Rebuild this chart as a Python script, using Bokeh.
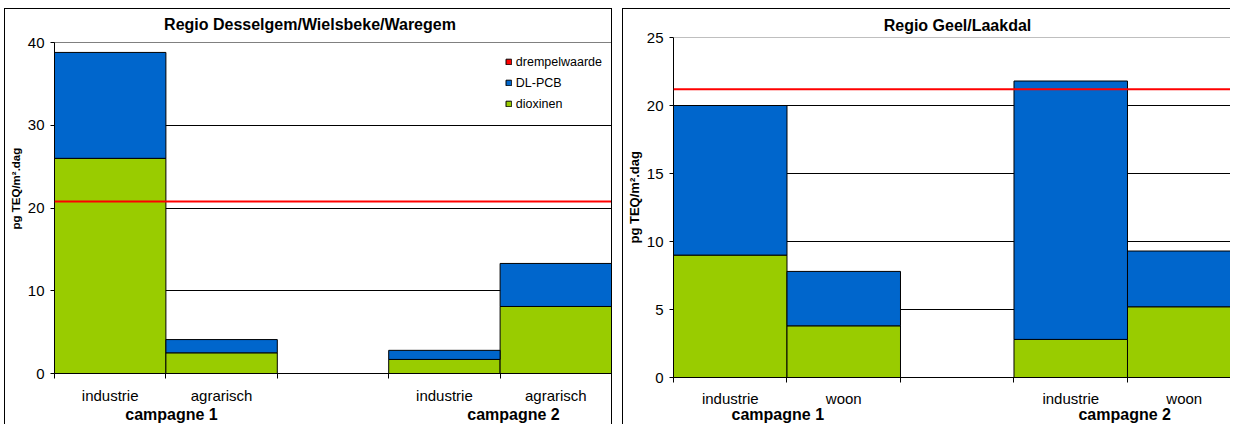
import math
from bokeh.plotting import figure
from bokeh.models import (ColumnDataSource, FixedTicker, Span, Legend, LegendItem,
                          Range1d, Title, LinearAxis, Spacer)
from bokeh.layouts import row, column
from bokeh.embed import file_html
from bokeh.resources import INLINE

# ---------------- data ----------------
series_names = ["drempelwaarde", "DL-PCB", "dioxinen"]
campagne_labels = ["campagne 1", "campagne 2"]
ylabel_text = "pg TEQ/m².dag"

left_title = "Regio Desselgem/Wielsbeke/Waregem"
left_campagne = [1, 1, 2, 2]
left_categories = ["industrie", "agrarisch", "industrie", "agrarisch"]
left_dioxinen = [26.0, 2.5, 1.7, 8.1]
left_dlpcb = [12.8, 1.6, 1.1, 5.2]
left_drempel = 20.8
left_yticks = [0, 10, 20, 30, 40]

right_title = "Regio Geel/Laakdal"
right_campagne = [1, 1, 2, 2]
right_categories = ["industrie", "woon", "industrie", "woon"]
right_dioxinen = [9.0, 3.8, 2.8, 5.2]
right_dlpcb = [11.0, 4.0, 19.0, 4.1]
right_drempel = 21.2
right_yticks = [0, 5, 10, 15, 20, 25]

GREEN = "#99CC00"
BLUE = "#0066CC"
RED = "#FF0000"
FONT = "Liberation Sans"


def text_axis(ticks, labels, size, standoff, orientation="horizontal"):
    """An axis used only to place text labels at given positions outside the frame."""
    return LinearAxis(ticker=FixedTicker(ticks=ticks, minor_ticks=[]),
                      major_label_overrides={v: t for v, t in zip(ticks, labels)},
                      axis_line_color=None, major_tick_line_color=None,
                      minor_tick_line_color=None, major_tick_out=0, major_tick_in=0,
                      major_label_standoff=standoff, major_label_orientation=orientation,
                      major_label_text_font=FONT, major_label_text_font_size=size,
                      major_label_text_font_style="bold", major_label_text_color="black")


def make_chart(title, campagne, cats, diox, dl, drempel, yticks, geo, legend=False):
    W, H = geo["W"], geo["H"]
    CW, CH = geo["CW"], geo["CH"]          # canvas size inside the css border
    FL, FR, FT, FB = geo["FL"], geo["FR"], geo["FT"], geo["FB"]
    x0, x1 = 0.0, geo["xend"]
    y0, y1 = 0.0, float(yticks[-1])
    slot_px = (FR - FL) / (x1 - x0)

    p = figure(width=W, height=H, output_backend="svg", toolbar_location=None,
               x_range=Range1d(x0, x1), y_range=Range1d(y0, y1),
               min_border_left=FL, min_border_right=CW - FR,
               min_border_top=FT, min_border_bottom=CH - FB,
               styles=geo["styles"])
    p.frame_align = False
    p.title.text = ""
    p.title.standoff = 0
    p.background_fill_color = "white"
    p.border_fill_color = "white"
    p.outline_line_color = geo["outline"]
    p.outline_line_width = 1

    # slot positions: campagne groups separated by an empty slot
    idx_in_group = []
    seen = {}
    for c in campagne:
        idx_in_group.append(seen.get(c, 0))
        seen[c] = seen.get(c, 0) + 1
    centers = [(c - 1) * 3 + i + 0.5 for c, i in zip(campagne, idx_in_group)]
    totals = [a + b for a, b in zip(diox, dl)]
    src = ColumnDataSource(dict(x=centers, diox=diox, total=totals))

    r_d = p.vbar(x="x", width=1.0, bottom=0, top="diox", source=src,
                 fill_color=GREEN, line_color="black", line_width=1)
    r_p = p.vbar(x="x", width=1.0, bottom="diox", top="total", source=src,
                 fill_color=BLUE, line_color="black", line_width=1)

    p.add_layout(Span(location=drempel, dimension="width", line_color=RED, line_width=2))
    if geo["outline"] is None:
        p.add_layout(Span(location=yticks[-1], dimension="width",
                          line_color="#808080", line_width=1))

    # category axis (labels centred in slots, ticks at slot boundaries)
    n_slots = int(max(centers) + 0.5)
    bounds_all = list(range(0, n_slots + 1))
    xa = p.xaxis[0]
    xa.ticker = FixedTicker(ticks=centers, minor_ticks=bounds_all)
    xa.major_label_overrides = {c: lab for c, lab in zip(centers, cats)}
    xa.major_tick_out = 0
    xa.major_tick_in = 0
    xa.minor_tick_out = 5
    xa.minor_tick_in = 0
    xa.minor_tick_line_color = "black"
    xa.axis_line_color = "black"
    xa.major_label_standoff = geo["x_stand"]
    xa.major_label_text_font = FONT
    xa.major_label_text_font_size = "15px"
    xa.major_label_text_color = "black"

    # campagne group labels on a second axis below
    camp_pos = [x0 + (px - FL) / slot_px for px in geo["camp_px"]]
    p.add_layout(text_axis(camp_pos, campagne_labels, "16px", geo["camp_stand"]), "below")

    # chart title on an axis above
    title_pos = [x0 + (geo["title_px"] - FL) / slot_px]
    p.add_layout(text_axis(title_pos, [title], "16px", geo["title_stand"]), "above")

    ya = p.yaxis[0]
    ya.ticker = FixedTicker(ticks=yticks)
    ya.major_tick_out = 4
    ya.major_tick_in = 0
    ya.minor_tick_line_color = None
    ya.axis_line_color = "black"
    ya.major_tick_line_color = "black"
    ya.major_label_standoff = 6
    ya.major_label_text_font = FONT
    ya.major_label_text_font_size = "15px"
    ya.major_label_text_color = "black"

    p.add_layout(Title(text=ylabel_text, align="left", offset=geo["ylab_off"],
                       standoff=geo["ylab_stand"], text_font=FONT,
                       text_font_size=geo["ylab_size"], text_font_style="bold",
                       text_color="black"), "left")

    p.xgrid.visible = False
    p.ygrid.ticker = FixedTicker(ticks=yticks[1:-1])
    p.ygrid.grid_line_color = "black"
    p.ygrid.grid_line_width = 1

    if legend:
        # legend proxy for the threshold line (square swatch, placed outside the view)
        r_t = p.vbar(x=[x0 - 2.0], width=0.5, top=[drempel], fill_color=RED,
                     line_color="black")
        leg = Legend(items=[LegendItem(label=series_names[0], renderers=[r_t]),
                            LegendItem(label=series_names[1], renderers=[r_p]),
                            LegendItem(label=series_names[2], renderers=[r_d])],
                     location="top_right")
        leg.glyph_width = 7
        leg.glyph_height = 7
        leg.label_height = 21
        leg.label_standoff = 4
        leg.spacing = 0
        leg.padding = 0
        leg.margin = 9
        leg.border_line_color = None
        leg.background_fill_alpha = 0
        leg.label_text_font = FONT
        leg.label_text_font_size = "12.5px"
        leg.label_text_color = "black"
        p.add_layout(leg)
    return p


# canvas-pixel geometry (canvas origin: left chart at page (7,10), right at (625,10))
geo_left = dict(W=608, H=416, CW=606, CH=415, FL=47, FR=604, FT=33, FB=364, xend=5.0,
                outline="#808080",
                styles={"border-left": "1px solid black", "border-top": "1px solid black",
                        "border-right": "1px solid black"},
                title_px=309.5 - 7, title_stand=10,
                ylab_off=144, ylab_stand=5, ylab_size="11.5px",
                x_stand=8, camp_px=[171 - 7, 513 - 7], camp_stand=-1)
geo_right = dict(W=608, H=416, CW=607, CH=415, FL=48, FR=607, FT=28, FB=368,
                 xend=(1232 - 673) / 113.7,
                 outline=None,
                 styles={"border-left": "1px solid black", "border-top": "1px solid black"},
                 title_px=957.5 - 625, title_stand=4,
                 ylab_off=134, ylab_stand=3, ylab_size="13px",
                 x_stand=7, camp_px=[777.5 - 625, 1125 - 625], camp_stand=-4)

p1 = make_chart(left_title, left_campagne, left_categories, left_dioxinen, left_dlpcb,
                left_drempel, left_yticks, geo_left, legend=True)
p2 = make_chart(right_title, right_campagne, right_categories, right_dioxinen, right_dlpcb,
                right_drempel, right_yticks, geo_right)

layout = column(Spacer(height=8),
                row(Spacer(width=4), p1, Spacer(width=10), p2))
open("out.html", "w").write(file_html(layout, INLINE))
